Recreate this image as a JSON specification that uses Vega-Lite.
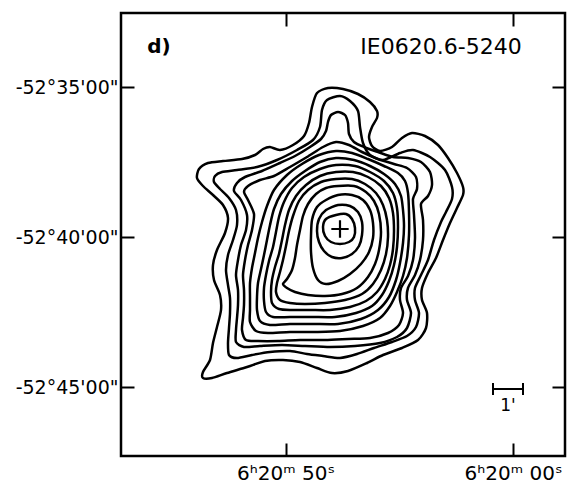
{
  "$schema": "https://vega.github.io/schema/vega-lite/v6.json",
  "width": 444,
  "height": 443,
  "autosize": {"type": "none"},
  "padding": {"left": 121, "top": 13, "right": 9, "bottom": 28},
  "background": "white",
  "config": {"view": {"stroke": "black", "strokeWidth": 2.5}, "font": "DejaVu Sans"},
  "datasets": {
    "contours": [
      {"lvl":1,"seq":1,"ra":392,"dec":288},{"lvl":1,"seq":2,"ra":370,"dec":298},{"lvl":1,"seq":3,"ra":340,"dec":296},{"lvl":1,"seq":4,"ra":310,"dec":286},{"lvl":1,"seq":5,"ra":286,"dec":270},{"lvl":1,"seq":6,"ra":272,"dec":252},{"lvl":1,"seq":7,"ra":272,"dec":238},{"lvl":1,"seq":8,"ra":282,"dec":220},{"lvl":1,"seq":9,"ra":288,"dec":200},{"lvl":1,"seq":10,"ra":282,"dec":182},{"lvl":1,"seq":11,"ra":266,"dec":172},{"lvl":1,"seq":12,"ra":242,"dec":180},{"lvl":1,"seq":13,"ra":222,"dec":198},{"lvl":1,"seq":14,"ra":202,"dec":208},{"lvl":1,"seq":15,"ra":176,"dec":202},{"lvl":1,"seq":16,"ra":150,"dec":184},{"lvl":1,"seq":17,"ra":130,"dec":158},{"lvl":1,"seq":18,"ra":112,"dec":128},{"lvl":1,"seq":19,"ra":100,"dec":100},{"lvl":1,"seq":20,"ra":100,"dec":84},{"lvl":1,"seq":21,"ra":112,"dec":58},{"lvl":1,"seq":22,"ra":126,"dec":28},{"lvl":1,"seq":23,"ra":140,"dec":-6},{"lvl":1,"seq":24,"ra":154,"dec":-42},{"lvl":1,"seq":25,"ra":170,"dec":-72},{"lvl":1,"seq":26,"ra":182,"dec":-102},{"lvl":1,"seq":27,"ra":182,"dec":-126},{"lvl":1,"seq":28,"ra":172,"dec":-152},{"lvl":1,"seq":29,"ra":174,"dec":-182},{"lvl":1,"seq":30,"ra":190,"dec":-206},{"lvl":1,"seq":31,"ra":222,"dec":-222},{"lvl":1,"seq":32,"ra":260,"dec":-236},{"lvl":1,"seq":33,"ra":292,"dec":-252},{"lvl":1,"seq":34,"ra":330,"dec":-268},{"lvl":1,"seq":35,"ra":362,"dec":-272},{"lvl":1,"seq":36,"ra":392,"dec":-262},{"lvl":1,"seq":37,"ra":426,"dec":-250},{"lvl":1,"seq":38,"ra":460,"dec":-246},{"lvl":1,"seq":39,"ra":496,"dec":-248},{"lvl":1,"seq":40,"ra":532,"dec":-260},{"lvl":1,"seq":41,"ra":572,"dec":-272},{"lvl":1,"seq":42,"ra":602,"dec":-282},{"lvl":1,"seq":43,"ra":620,"dec":-282},{"lvl":1,"seq":44,"ra":620,"dec":-270},{"lvl":1,"seq":45,"ra":606,"dec":-246},{"lvl":1,"seq":46,"ra":600,"dec":-212},{"lvl":1,"seq":47,"ra":592,"dec":-180},{"lvl":1,"seq":48,"ra":584,"dec":-146},{"lvl":1,"seq":49,"ra":586,"dec":-116},{"lvl":1,"seq":50,"ra":598,"dec":-86},{"lvl":1,"seq":51,"ra":600,"dec":-56},{"lvl":1,"seq":52,"ra":592,"dec":-26},{"lvl":1,"seq":53,"ra":576,"dec":8},{"lvl":1,"seq":54,"ra":570,"dec":38},{"lvl":1,"seq":55,"ra":580,"dec":64},{"lvl":1,"seq":56,"ra":600,"dec":84},{"lvl":1,"seq":57,"ra":620,"dec":102},{"lvl":1,"seq":58,"ra":632,"dec":118},{"lvl":1,"seq":59,"ra":628,"dec":136},{"lvl":1,"seq":60,"ra":610,"dec":148},{"lvl":1,"seq":61,"ra":580,"dec":152},{"lvl":1,"seq":62,"ra":542,"dec":156},{"lvl":1,"seq":63,"ra":516,"dec":164},{"lvl":1,"seq":64,"ra":500,"dec":176},{"lvl":1,"seq":65,"ra":486,"dec":180},{"lvl":1,"seq":66,"ra":466,"dec":174},{"lvl":1,"seq":67,"ra":440,"dec":184},{"lvl":1,"seq":68,"ra":418,"dec":202},{"lvl":1,"seq":69,"ra":408,"dec":228},{"lvl":1,"seq":70,"ra":402,"dec":260},

      {"lvl":2,"seq":1,"ra":382,"dec":254},{"lvl":2,"seq":2,"ra":372,"dec":274},{"lvl":2,"seq":3,"ra":346,"dec":282},{"lvl":2,"seq":4,"ra":326,"dec":272},{"lvl":2,"seq":5,"ra":310,"dec":252},{"lvl":2,"seq":6,"ra":306,"dec":220},{"lvl":2,"seq":7,"ra":300,"dec":188},{"lvl":2,"seq":8,"ra":286,"dec":164},{"lvl":2,"seq":9,"ra":260,"dec":154},{"lvl":2,"seq":10,"ra":226,"dec":168},{"lvl":2,"seq":11,"ra":200,"dec":174},{"lvl":2,"seq":12,"ra":166,"dec":160},{"lvl":2,"seq":13,"ra":136,"dec":134},{"lvl":2,"seq":14,"ra":122,"dec":100},{"lvl":2,"seq":15,"ra":122,"dec":76},{"lvl":2,"seq":16,"ra":134,"dec":50},{"lvl":2,"seq":17,"ra":144,"dec":30},{"lvl":2,"seq":18,"ra":158,"dec":-6},{"lvl":2,"seq":19,"ra":170,"dec":-46},{"lvl":2,"seq":20,"ra":184,"dec":-76},{"lvl":2,"seq":21,"ra":196,"dec":-102},{"lvl":2,"seq":22,"ra":196,"dec":-126},{"lvl":2,"seq":23,"ra":188,"dec":-152},{"lvl":2,"seq":24,"ra":194,"dec":-180},{"lvl":2,"seq":25,"ra":212,"dec":-198},{"lvl":2,"seq":26,"ra":242,"dec":-210},{"lvl":2,"seq":27,"ra":278,"dec":-222},{"lvl":2,"seq":28,"ra":312,"dec":-234},{"lvl":2,"seq":29,"ra":346,"dec":-242},{"lvl":2,"seq":30,"ra":380,"dec":-238},{"lvl":2,"seq":31,"ra":412,"dec":-234},{"lvl":2,"seq":32,"ra":446,"dec":-228},{"lvl":2,"seq":33,"ra":486,"dec":-230},{"lvl":2,"seq":34,"ra":522,"dec":-236},{"lvl":2,"seq":35,"ra":552,"dec":-242},{"lvl":2,"seq":36,"ra":568,"dec":-236},{"lvl":2,"seq":37,"ra":570,"dec":-212},{"lvl":2,"seq":38,"ra":568,"dec":-182},{"lvl":2,"seq":39,"ra":566,"dec":-152},{"lvl":2,"seq":40,"ra":566,"dec":-122},{"lvl":2,"seq":41,"ra":570,"dec":-96},{"lvl":2,"seq":42,"ra":574,"dec":-66},{"lvl":2,"seq":43,"ra":570,"dec":-36},{"lvl":2,"seq":44,"ra":560,"dec":-6},{"lvl":2,"seq":45,"ra":552,"dec":24},{"lvl":2,"seq":46,"ra":554,"dec":54},{"lvl":2,"seq":47,"ra":568,"dec":78},{"lvl":2,"seq":48,"ra":586,"dec":96},{"lvl":2,"seq":49,"ra":598,"dec":110},{"lvl":2,"seq":50,"ra":596,"dec":122},{"lvl":2,"seq":51,"ra":582,"dec":130},{"lvl":2,"seq":52,"ra":552,"dec":134},{"lvl":2,"seq":53,"ra":512,"dec":140},{"lvl":2,"seq":54,"ra":472,"dec":154},{"lvl":2,"seq":55,"ra":432,"dec":174},{"lvl":2,"seq":56,"ra":400,"dec":194},{"lvl":2,"seq":57,"ra":386,"dec":220},

      {"lvl":3,"seq":1,"ra":370,"dec":230},{"lvl":3,"seq":2,"ra":364,"dec":244},{"lvl":3,"seq":3,"ra":350,"dec":250},{"lvl":3,"seq":4,"ra":336,"dec":244},{"lvl":3,"seq":5,"ra":330,"dec":228},{"lvl":3,"seq":6,"ra":328,"dec":206},{"lvl":3,"seq":7,"ra":318,"dec":190},{"lvl":3,"seq":8,"ra":298,"dec":180},{"lvl":3,"seq":9,"ra":270,"dec":170},{"lvl":3,"seq":10,"ra":240,"dec":160},{"lvl":3,"seq":11,"ra":210,"dec":158},{"lvl":3,"seq":12,"ra":184,"dec":150},{"lvl":3,"seq":13,"ra":166,"dec":130},{"lvl":3,"seq":14,"ra":162,"dec":104},{"lvl":3,"seq":15,"ra":170,"dec":82},{"lvl":3,"seq":16,"ra":184,"dec":66},{"lvl":3,"seq":17,"ra":180,"dec":34},{"lvl":3,"seq":18,"ra":180,"dec":-6},{"lvl":3,"seq":19,"ra":186,"dec":-46},{"lvl":3,"seq":20,"ra":196,"dec":-76},{"lvl":3,"seq":21,"ra":210,"dec":-102},{"lvl":3,"seq":22,"ra":212,"dec":-126},{"lvl":3,"seq":23,"ra":204,"dec":-152},{"lvl":3,"seq":24,"ra":212,"dec":-182},{"lvl":3,"seq":25,"ra":232,"dec":-200},{"lvl":3,"seq":26,"ra":266,"dec":-212},{"lvl":3,"seq":27,"ra":316,"dec":-218},{"lvl":3,"seq":28,"ra":366,"dec":-220},{"lvl":3,"seq":29,"ra":416,"dec":-218},{"lvl":3,"seq":30,"ra":462,"dec":-216},{"lvl":3,"seq":31,"ra":506,"dec":-218},{"lvl":3,"seq":32,"ra":538,"dec":-220},{"lvl":3,"seq":33,"ra":554,"dec":-210},{"lvl":3,"seq":34,"ra":554,"dec":-186},{"lvl":3,"seq":35,"ra":552,"dec":-162},{"lvl":3,"seq":36,"ra":550,"dec":-136},{"lvl":3,"seq":37,"ra":550,"dec":-106},{"lvl":3,"seq":38,"ra":554,"dec":-76},{"lvl":3,"seq":39,"ra":550,"dec":-46},{"lvl":3,"seq":40,"ra":544,"dec":-16},{"lvl":3,"seq":41,"ra":534,"dec":14},{"lvl":3,"seq":42,"ra":532,"dec":44},{"lvl":3,"seq":43,"ra":544,"dec":74},{"lvl":3,"seq":44,"ra":558,"dec":92},{"lvl":3,"seq":45,"ra":552,"dec":108},{"lvl":3,"seq":46,"ra":536,"dec":120},{"lvl":3,"seq":47,"ra":502,"dec":132},{"lvl":3,"seq":48,"ra":466,"dec":148},{"lvl":3,"seq":49,"ra":436,"dec":162},{"lvl":3,"seq":50,"ra":406,"dec":180},{"lvl":3,"seq":51,"ra":384,"dec":196},{"lvl":3,"seq":52,"ra":374,"dec":212},

      {"lvl":4,"seq":1,"ra":354,"dec":190},{"lvl":4,"seq":2,"ra":328,"dec":184},{"lvl":4,"seq":3,"ra":302,"dec":170},{"lvl":4,"seq":4,"ra":270,"dec":156},{"lvl":4,"seq":5,"ra":238,"dec":146},{"lvl":4,"seq":6,"ra":212,"dec":138},{"lvl":4,"seq":7,"ra":194,"dec":120},{"lvl":4,"seq":8,"ra":192,"dec":96},{"lvl":4,"seq":9,"ra":200,"dec":76},{"lvl":4,"seq":10,"ra":198,"dec":44},{"lvl":4,"seq":11,"ra":196,"dec":-2},{"lvl":4,"seq":12,"ra":200,"dec":-46},{"lvl":4,"seq":13,"ra":210,"dec":-78},{"lvl":4,"seq":14,"ra":224,"dec":-102},{"lvl":4,"seq":15,"ra":226,"dec":-126},{"lvl":4,"seq":16,"ra":220,"dec":-152},{"lvl":4,"seq":17,"ra":228,"dec":-176},{"lvl":4,"seq":18,"ra":250,"dec":-192},{"lvl":4,"seq":19,"ra":286,"dec":-202},{"lvl":4,"seq":20,"ra":330,"dec":-204},{"lvl":4,"seq":21,"ra":376,"dec":-206},{"lvl":4,"seq":22,"ra":426,"dec":-206},{"lvl":4,"seq":23,"ra":470,"dec":-208},{"lvl":4,"seq":24,"ra":510,"dec":-208},{"lvl":4,"seq":25,"ra":534,"dec":-206},{"lvl":4,"seq":26,"ra":542,"dec":-186},{"lvl":4,"seq":27,"ra":540,"dec":-162},{"lvl":4,"seq":28,"ra":538,"dec":-136},{"lvl":4,"seq":29,"ra":538,"dec":-106},{"lvl":4,"seq":30,"ra":540,"dec":-76},{"lvl":4,"seq":31,"ra":536,"dec":-46},{"lvl":4,"seq":32,"ra":530,"dec":-16},{"lvl":4,"seq":33,"ra":522,"dec":14},{"lvl":4,"seq":34,"ra":518,"dec":46},{"lvl":4,"seq":35,"ra":530,"dec":74},{"lvl":4,"seq":36,"ra":538,"dec":90},{"lvl":4,"seq":37,"ra":530,"dec":102},{"lvl":4,"seq":38,"ra":506,"dec":114},{"lvl":4,"seq":39,"ra":478,"dec":122},{"lvl":4,"seq":40,"ra":446,"dec":140},{"lvl":4,"seq":41,"ra":412,"dec":160},{"lvl":4,"seq":42,"ra":380,"dec":180},

      {"lvl":5,"seq":1,"ra":354,"dec":172},{"lvl":5,"seq":2,"ra":322,"dec":168},{"lvl":5,"seq":3,"ra":290,"dec":156},{"lvl":5,"seq":4,"ra":258,"dec":142},{"lvl":5,"seq":5,"ra":230,"dec":128},{"lvl":5,"seq":6,"ra":216,"dec":112},{"lvl":5,"seq":7,"ra":210,"dec":88},{"lvl":5,"seq":8,"ra":208,"dec":50},{"lvl":5,"seq":9,"ra":208,"dec":4},{"lvl":5,"seq":10,"ra":212,"dec":-42},{"lvl":5,"seq":11,"ra":220,"dec":-78},{"lvl":5,"seq":12,"ra":232,"dec":-110},{"lvl":5,"seq":13,"ra":246,"dec":-138},{"lvl":5,"seq":14,"ra":266,"dec":-162},{"lvl":5,"seq":15,"ra":300,"dec":-178},{"lvl":5,"seq":16,"ra":346,"dec":-188},{"lvl":5,"seq":17,"ra":396,"dec":-190},{"lvl":5,"seq":18,"ra":446,"dec":-190},{"lvl":5,"seq":19,"ra":490,"dec":-192},{"lvl":5,"seq":20,"ra":514,"dec":-188},{"lvl":5,"seq":21,"ra":526,"dec":-170},{"lvl":5,"seq":22,"ra":526,"dec":-146},{"lvl":5,"seq":23,"ra":526,"dec":-120},{"lvl":5,"seq":24,"ra":526,"dec":-92},{"lvl":5,"seq":25,"ra":522,"dec":-62},{"lvl":5,"seq":26,"ra":516,"dec":-32},{"lvl":5,"seq":27,"ra":510,"dec":-2},{"lvl":5,"seq":28,"ra":502,"dec":30},{"lvl":5,"seq":29,"ra":492,"dec":62},{"lvl":5,"seq":30,"ra":478,"dec":94},{"lvl":5,"seq":31,"ra":452,"dec":124},{"lvl":5,"seq":32,"ra":422,"dec":146},{"lvl":5,"seq":33,"ra":388,"dec":164},

      {"lvl":6,"seq":1,"ra":354,"dec":158},{"lvl":6,"seq":2,"ra":318,"dec":154},{"lvl":6,"seq":3,"ra":286,"dec":142},{"lvl":6,"seq":4,"ra":258,"dec":126},{"lvl":6,"seq":5,"ra":236,"dec":106},{"lvl":6,"seq":6,"ra":224,"dec":82},{"lvl":6,"seq":7,"ra":220,"dec":54},{"lvl":6,"seq":8,"ra":218,"dec":22},{"lvl":6,"seq":9,"ra":220,"dec":-12},{"lvl":6,"seq":10,"ra":226,"dec":-52},{"lvl":6,"seq":11,"ra":234,"dec":-86},{"lvl":6,"seq":12,"ra":248,"dec":-120},{"lvl":6,"seq":13,"ra":270,"dec":-146},{"lvl":6,"seq":14,"ra":304,"dec":-164},{"lvl":6,"seq":15,"ra":350,"dec":-174},{"lvl":6,"seq":16,"ra":400,"dec":-174},{"lvl":6,"seq":17,"ra":446,"dec":-174},{"lvl":6,"seq":18,"ra":486,"dec":-176},{"lvl":6,"seq":19,"ra":506,"dec":-168},{"lvl":6,"seq":20,"ra":512,"dec":-146},{"lvl":6,"seq":21,"ra":512,"dec":-120},{"lvl":6,"seq":22,"ra":510,"dec":-92},{"lvl":6,"seq":23,"ra":504,"dec":-64},{"lvl":6,"seq":24,"ra":498,"dec":-36},{"lvl":6,"seq":25,"ra":492,"dec":-6},{"lvl":6,"seq":26,"ra":486,"dec":24},{"lvl":6,"seq":27,"ra":478,"dec":56},{"lvl":6,"seq":28,"ra":464,"dec":86},{"lvl":6,"seq":29,"ra":442,"dec":112},{"lvl":6,"seq":30,"ra":416,"dec":132},{"lvl":6,"seq":31,"ra":386,"dec":150},

      {"lvl":7,"seq":1,"ra":354,"dec":144},{"lvl":7,"seq":2,"ra":316,"dec":142},{"lvl":7,"seq":3,"ra":286,"dec":130},{"lvl":7,"seq":4,"ra":258,"dec":112},{"lvl":7,"seq":5,"ra":240,"dec":88},{"lvl":7,"seq":6,"ra":232,"dec":58},{"lvl":7,"seq":7,"ra":230,"dec":20},{"lvl":7,"seq":8,"ra":232,"dec":-20},{"lvl":7,"seq":9,"ra":238,"dec":-56},{"lvl":7,"seq":10,"ra":248,"dec":-88},{"lvl":7,"seq":11,"ra":262,"dec":-116},{"lvl":7,"seq":12,"ra":282,"dec":-138},{"lvl":7,"seq":13,"ra":314,"dec":-152},{"lvl":7,"seq":14,"ra":356,"dec":-160},{"lvl":7,"seq":15,"ra":402,"dec":-160},{"lvl":7,"seq":16,"ra":446,"dec":-160},{"lvl":7,"seq":17,"ra":480,"dec":-160},{"lvl":7,"seq":18,"ra":494,"dec":-150},{"lvl":7,"seq":19,"ra":498,"dec":-128},{"lvl":7,"seq":20,"ra":498,"dec":-102},{"lvl":7,"seq":21,"ra":494,"dec":-76},{"lvl":7,"seq":22,"ra":488,"dec":-48},{"lvl":7,"seq":23,"ra":480,"dec":-20},{"lvl":7,"seq":24,"ra":474,"dec":10},{"lvl":7,"seq":25,"ra":468,"dec":40},{"lvl":7,"seq":26,"ra":458,"dec":70},{"lvl":7,"seq":27,"ra":442,"dec":98},{"lvl":7,"seq":28,"ra":418,"dec":120},{"lvl":7,"seq":29,"ra":386,"dec":136},

      {"lvl":8,"seq":1,"ra":354,"dec":130},{"lvl":8,"seq":2,"ra":320,"dec":130},{"lvl":8,"seq":3,"ra":290,"dec":120},{"lvl":8,"seq":4,"ra":264,"dec":102},{"lvl":8,"seq":5,"ra":248,"dec":78},{"lvl":8,"seq":6,"ra":240,"dec":48},{"lvl":8,"seq":7,"ra":238,"dec":12},{"lvl":8,"seq":8,"ra":240,"dec":-24},{"lvl":8,"seq":9,"ra":246,"dec":-56},{"lvl":8,"seq":10,"ra":256,"dec":-84},{"lvl":8,"seq":11,"ra":272,"dec":-110},{"lvl":8,"seq":12,"ra":294,"dec":-128},{"lvl":8,"seq":13,"ra":326,"dec":-140},{"lvl":8,"seq":14,"ra":366,"dec":-146},{"lvl":8,"seq":15,"ra":406,"dec":-146},{"lvl":8,"seq":16,"ra":442,"dec":-146},{"lvl":8,"seq":17,"ra":468,"dec":-144},{"lvl":8,"seq":18,"ra":482,"dec":-132},{"lvl":8,"seq":19,"ra":484,"dec":-110},{"lvl":8,"seq":20,"ra":482,"dec":-86},{"lvl":8,"seq":21,"ra":476,"dec":-60},{"lvl":8,"seq":22,"ra":468,"dec":-34},{"lvl":8,"seq":23,"ra":462,"dec":-6},{"lvl":8,"seq":24,"ra":456,"dec":24},{"lvl":8,"seq":25,"ra":448,"dec":54},{"lvl":8,"seq":26,"ra":434,"dec":82},{"lvl":8,"seq":27,"ra":414,"dec":104},{"lvl":8,"seq":28,"ra":386,"dec":122},

      {"lvl":9,"seq":1,"ra":354,"dec":116},{"lvl":9,"seq":2,"ra":322,"dec":116},{"lvl":9,"seq":3,"ra":296,"dec":106},{"lvl":9,"seq":4,"ra":274,"dec":88},{"lvl":9,"seq":5,"ra":260,"dec":64},{"lvl":9,"seq":6,"ra":252,"dec":34},{"lvl":9,"seq":7,"ra":250,"dec":0},{"lvl":9,"seq":8,"ra":254,"dec":-34},{"lvl":9,"seq":9,"ra":264,"dec":-66},{"lvl":9,"seq":10,"ra":280,"dec":-94},{"lvl":9,"seq":11,"ra":302,"dec":-114},{"lvl":9,"seq":12,"ra":336,"dec":-126},{"lvl":9,"seq":13,"ra":376,"dec":-132},{"lvl":9,"seq":14,"ra":416,"dec":-134},{"lvl":9,"seq":15,"ra":446,"dec":-132},{"lvl":9,"seq":16,"ra":466,"dec":-126},{"lvl":9,"seq":17,"ra":474,"dec":-110},{"lvl":9,"seq":18,"ra":472,"dec":-92},{"lvl":9,"seq":19,"ra":466,"dec":-70},{"lvl":9,"seq":20,"ra":460,"dec":-46},{"lvl":9,"seq":21,"ra":454,"dec":-18},{"lvl":9,"seq":22,"ra":448,"dec":12},{"lvl":9,"seq":23,"ra":440,"dec":42},{"lvl":9,"seq":24,"ra":428,"dec":72},{"lvl":9,"seq":25,"ra":410,"dec":94},{"lvl":9,"seq":26,"ra":384,"dec":110},

      {"lvl":10,"seq":1,"ra":350,"dec":102},{"lvl":10,"seq":2,"ra":318,"dec":102},{"lvl":10,"seq":3,"ra":294,"dec":90},{"lvl":10,"seq":4,"ra":278,"dec":72},{"lvl":10,"seq":5,"ra":268,"dec":46},{"lvl":10,"seq":6,"ra":264,"dec":10},{"lvl":10,"seq":7,"ra":268,"dec":-26},{"lvl":10,"seq":8,"ra":276,"dec":-54},{"lvl":10,"seq":9,"ra":290,"dec":-80},{"lvl":10,"seq":10,"ra":312,"dec":-102},{"lvl":10,"seq":11,"ra":342,"dec":-114},{"lvl":10,"seq":12,"ra":376,"dec":-118},{"lvl":10,"seq":13,"ra":410,"dec":-116},{"lvl":10,"seq":14,"ra":436,"dec":-110},{"lvl":10,"seq":15,"ra":452,"dec":-102},{"lvl":10,"seq":16,"ra":460,"dec":-94},{"lvl":10,"seq":17,"ra":452,"dec":-84},{"lvl":10,"seq":18,"ra":442,"dec":-66},{"lvl":10,"seq":19,"ra":436,"dec":-42},{"lvl":10,"seq":20,"ra":432,"dec":-16},{"lvl":10,"seq":21,"ra":426,"dec":14},{"lvl":10,"seq":22,"ra":420,"dec":42},{"lvl":10,"seq":23,"ra":410,"dec":66},{"lvl":10,"seq":24,"ra":394,"dec":86},{"lvl":10,"seq":25,"ra":374,"dec":98},

      {"lvl":11,"seq":1,"ra":350,"dec":84},{"lvl":11,"seq":2,"ra":322,"dec":84},{"lvl":11,"seq":3,"ra":300,"dec":74},{"lvl":11,"seq":4,"ra":286,"dec":54},{"lvl":11,"seq":5,"ra":280,"dec":28},{"lvl":11,"seq":6,"ra":280,"dec":-2},{"lvl":11,"seq":7,"ra":288,"dec":-30},{"lvl":11,"seq":8,"ra":304,"dec":-54},{"lvl":11,"seq":9,"ra":326,"dec":-74},{"lvl":11,"seq":10,"ra":350,"dec":-88},{"lvl":11,"seq":11,"ra":374,"dec":-94},{"lvl":11,"seq":12,"ra":390,"dec":-86},{"lvl":11,"seq":13,"ra":400,"dec":-62},{"lvl":11,"seq":14,"ra":404,"dec":-30},{"lvl":11,"seq":15,"ra":404,"dec":2},{"lvl":11,"seq":16,"ra":402,"dec":34},{"lvl":11,"seq":17,"ra":392,"dec":60},{"lvl":11,"seq":18,"ra":374,"dec":74},

      {"lvl":12,"seq":1,"ra":350,"dec":64},{"lvl":12,"seq":2,"ra":326,"dec":62},{"lvl":12,"seq":3,"ra":310,"dec":50},{"lvl":12,"seq":4,"ra":302,"dec":30},{"lvl":12,"seq":5,"ra":302,"dec":4},{"lvl":12,"seq":6,"ra":308,"dec":-18},{"lvl":12,"seq":7,"ra":322,"dec":-34},{"lvl":12,"seq":8,"ra":342,"dec":-42},{"lvl":12,"seq":9,"ra":362,"dec":-40},{"lvl":12,"seq":10,"ra":378,"dec":-28},{"lvl":12,"seq":11,"ra":388,"dec":-10},{"lvl":12,"seq":12,"ra":392,"dec":12},{"lvl":12,"seq":13,"ra":388,"dec":36},{"lvl":12,"seq":14,"ra":374,"dec":54},

      {"lvl":13,"seq":1,"ra":354,"dec":44},{"lvl":13,"seq":2,"ra":334,"dec":46},{"lvl":13,"seq":3,"ra":322,"dec":36},{"lvl":13,"seq":4,"ra":316,"dec":18},{"lvl":13,"seq":5,"ra":318,"dec":0},{"lvl":13,"seq":6,"ra":328,"dec":-10},{"lvl":13,"seq":7,"ra":346,"dec":-14},{"lvl":13,"seq":8,"ra":364,"dec":-10},{"lvl":13,"seq":9,"ra":376,"dec":2},{"lvl":13,"seq":10,"ra":380,"dec":20},{"lvl":13,"seq":11,"ra":374,"dec":36}
    ],
    "peak": [{"ra": 346, "dec": 16}],
    "scalebar": [{"ra": 40, "ra2": -20, "dec": -304}],
    "scalecaps": [{"ra": 40, "dec": -292, "dec2": -316}, {"ra": -20, "dec": -292, "dec2": -316}],
    "scaletext": [{"ra": 10, "dec": -338, "txt": "1'"}],
    "panel": [{"ra": 708, "dec": 380, "txt": "d)"}],
    "source": [{"ra": 144, "dec": 380, "txt": "IE0620.6-5240"}]
  },
  "layer": [
    {
      "data": {"name": "contours"},
      "mark": {"type": "line", "interpolate": "cardinal-closed", "tension": 0.25, "color": "black", "strokeWidth": 2.5, "strokeJoin": "round"},
      "encoding": {
        "x": {"field": "ra", "type": "quantitative",
              "scale": {"domain": [-104, 784], "reverse": true, "nice": false, "zero": false},
              "axis": {"orient": "bottom", "values": [455, 0], "title": null, "grid": false, "domain": false,
                       "labelExpr": "datum.value > 200 ? '6ʰ20ᵐ 50ˢ' : '6ʰ20ᵐ 00ˢ'",
                       "tickSize": -13, "tickWidth": 2, "tickColor": "black",
                       "labelFont": "DejaVu Sans", "labelFontSize": 20, "labelColor": "black", "labelPadding": 20,
                       "labelFlush": false, "labelOverlap": false, "labelAngle": 0}},
        "y": {"field": "dec", "type": "quantitative",
              "scale": {"domain": [-438, 448], "nice": false, "zero": false},
              "axis": {"orient": "left", "values": [300, 0, -300], "title": null, "grid": false, "domain": false,
                       "labelExpr": "datum.value > 150 ? '-52°35\\'00\"' : (datum.value < -150 ? '-52°45\\'00\"' : '-52°40\\'00\"')",
                       "tickSize": -13, "tickWidth": 2, "tickColor": "black",
                       "labelFont": "DejaVu Sans", "labelFontSize": 19, "labelColor": "black", "labelPadding": 16,
                       "labelOverlap": false}},
        "detail": {"field": "lvl", "type": "nominal"},
        "order": {"field": "seq", "type": "quantitative"}
      }
    },
    {
      "data": {"name": "peak"},
      "mark": {"type": "point", "shape": "M-1,0H1M0,-1V1", "size": 300, "filled": false, "color": "black", "strokeWidth": 2.2, "opacity": 1},
      "encoding": {
        "x": {"field": "ra", "type": "quantitative",
              "scale": {"domain": [-104, 784], "reverse": true, "nice": false, "zero": false},
              "axis": {"orient": "top", "values": [455, 0], "title": null, "grid": false, "domain": false, "labels": false,
                       "tickSize": -13, "tickWidth": 2, "tickColor": "black"}},
        "y": {"field": "dec", "type": "quantitative",
              "scale": {"domain": [-438, 448], "nice": false, "zero": false},
              "axis": {"orient": "right", "values": [300, 0, -300], "title": null, "grid": false, "domain": false, "labels": false,
                       "tickSize": -13, "tickWidth": 2, "tickColor": "black"}}
      }
    },
    {
      "data": {"name": "scalebar"},
      "mark": {"type": "rule", "color": "black", "strokeWidth": 2},
      "encoding": {
        "x": {"field": "ra", "type": "quantitative", "axis": null},
        "x2": {"field": "ra2"},
        "y": {"field": "dec", "type": "quantitative", "axis": null}
      }
    },
    {
      "data": {"name": "scalecaps"},
      "mark": {"type": "rule", "color": "black", "strokeWidth": 2},
      "encoding": {
        "x": {"field": "ra", "type": "quantitative", "axis": null},
        "y": {"field": "dec", "type": "quantitative", "axis": null},
        "y2": {"field": "dec2"}
      }
    },
    {
      "data": {"name": "scaletext"},
      "mark": {"type": "text", "font": "DejaVu Sans", "fontSize": 17, "color": "black", "align": "center", "baseline": "middle"},
      "encoding": {
        "x": {"field": "ra", "type": "quantitative", "axis": null},
        "y": {"field": "dec", "type": "quantitative", "axis": null},
        "text": {"field": "txt"}
      }
    },
    {
      "data": {"name": "panel"},
      "mark": {"type": "text", "font": "DejaVu Sans", "fontSize": 20, "fontWeight": "bold", "color": "black", "align": "center", "baseline": "middle"},
      "encoding": {
        "x": {"field": "ra", "type": "quantitative", "axis": null},
        "y": {"field": "dec", "type": "quantitative", "axis": null},
        "text": {"field": "txt"}
      }
    },
    {
      "data": {"name": "source"},
      "mark": {"type": "text", "font": "DejaVu Sans", "fontSize": 22, "color": "black", "align": "center", "baseline": "middle"},
      "encoding": {
        "x": {"field": "ra", "type": "quantitative", "axis": null},
        "y": {"field": "dec", "type": "quantitative", "axis": null},
        "text": {"field": "txt"}
      }
    }
  ],
  "resolve": {"axis": {"x": "independent", "y": "independent"}}
}
